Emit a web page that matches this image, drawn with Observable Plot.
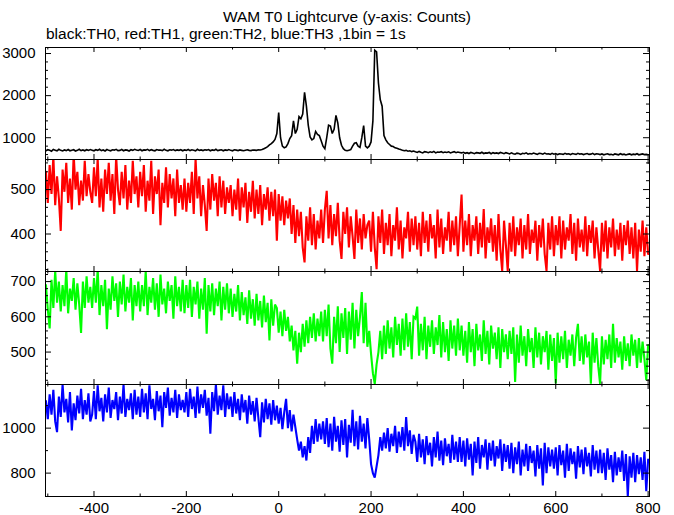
<!DOCTYPE html>
<html><head><meta charset="utf-8">
<script src="https://cdn.jsdelivr.net/npm/d3@7"></script>
<script src="https://cdn.jsdelivr.net/npm/@observablehq/plot@0.6"></script>
<style>
body{margin:0;background:#fff;}
#chart{position:relative;width:674px;height:515px;font-family:"Liberation Sans",Arial,sans-serif;color:#000;overflow:hidden;}
.t{position:absolute;font-size:15.5px;line-height:18px;white-space:nowrap;}
#chart svg{position:absolute;left:0;overflow:visible;}
</style></head><body>
<div id="chart">
<div class="t" style="left:45px;width:604px;text-align:center;top:8px">WAM T0 Lightcurve (y-axis: Counts)</div>
<div class="t" style="left:46px;top:25px">black:TH0, red:TH1, green:TH2, blue:TH3 ,1bin = 1s</div>
</div>
<script>
// time bins: first bin at T0, one value every STEP seconds
const T0 = -504, STEP = 4;

// TH0 (black)
const th0 = [
690,715,700,680,720, 705,690,725,700,685, 710,695,720,690,705, 715,685,700,725,695, 710,690,715,700,720,
705,690,715,700,725, 695,710,685,720,700, 690,715,705,725,695, 700,720,690,710,705, 685,715,700,725,710,
700,720,690,710,705, 725,695,715,700,690, 720,705,710,695,725, 700,690,715,705,720, 695,710,700,715,690,
710,700,720,695,715, 705,690,725,700,710, 695,715,705,720,690, 710,700,725,695,705, 715,690,710,700,720,
700,690,715,705,695, 710,700,690,705,715, 700,695,710,705,700, 715,710,720,740,760, 790,830,860,900,960,
1100,1600,1000,800,760, 780,860,980,1050,1400, 1100,1200,1500,1450,1560, 2080,1750,1300,1020,950, 980,1150,1080,1050,930,
800,740,1000,1300,1280, 1100,1200,1530,1350,1000, 820,740,700,690,700, 720,800,870,880,800, 770,1000,1290,800,760,
800,900,1400,3080,3040, 2300,1900,1750,1050,950, 880,840,800,790,760, 750,730,720,700,690, 700,680,690,670,685,
665,650,675,655,640, 670,660,645,665,650, 675,640,660,655,670, 645,660,650,665,640, 655,670,645,660,650,
640,655,630,645,625, 650,635,620,645,640, 630,655,625,640,635, 650,620,645,630,640, 625,650,635,620,645,
630,615,640,620,610, 635,625,605,630,620, 640,610,625,615,635, 620,605,630,625,610, 635,615,620,605,630,
610,625,600,620,615, 605,630,610,620,600, 625,615,605,630,610, 620,600,615,625,605, 610,630,600,620,615,
600,615,595,610,620, 600,605,590,615,605, 595,620,600,610,590, 605,615,595,610,600, 620,595,605,615,600,
605,595
];

// TH1 (red)
const th1 = [
540,470,555,490,575, 465,530,480,407,545, 495,560,470,525,455, 580,500,540,465,520, 475,565,485,535,495,
470,550,485,570,460, 525,450,545,490,560, 475,535,445,575,500, 465,540,480,555,455, 520,470,565,490,530,
460,540,485,555,450, 520,475,565,445,530, 490,545,420,515,470, 550,460,535,480,525, 440,545,470,510,455,
525,450,515,470,540, 445,570,480,530,440, 510,465,407,525,455, 535,475,515,440,530, 460,520,445,505,470,
510,440,500,455,525, 430,505,460,515,425, 495,450,520,435,500, 445,510,420,490,455, 505,430,495,440,500,
385,490,430,485,420, 475,435,480,400,465, 380,455,395,450,370, 336,440,385,460,375, 445,365,430,390,455,
380,455,497,390,465, 375,445,395,470,385, 344,450,400,460,370, 440,395,344,455,380, 435,365,445,390,420,
430,360,450,370,321, 440,380,455,355,425, 375,445,350,420,385, 460,365,430,345,415, 390,450,360,435,375,
440,365,425,350,450, 380,430,360,445,390, 420,345,455,370,435, 355,415,385,450,360, 430,375,440,350,420,
489,360,430,375,445, 350,420,385,440,355, 425,370,456,345,415, 380,435,360,420,340, 445,365,317,430,375,
317,425,360,440,350, 415,375,435,345,420, 365,445,355,410,380, 430,340,420,370,435, 355,317,425,365,440,
350,420,375,440,345, 430,365,415,385,445, 355,425,340,435,370, 410,360,440,350,420, 380,430,345,415,365,
317,425,360,430,345, 415,370,435,350,410, 365,425,340,420,375, 430,355,415,345,425, 317,410,360,430,350,
415,355
];

// TH2 (green)
const th2 = [
690,620,567,705,625, 730,640,700,615,690, 630,735,610,680,645, 710,620,695,635,554, 700,625,715,640,685,
625,710,640,735,605, 690,630,705,565,680, 620,715,645,695,600, 700,635,720,615,685, 640,710,590,690,630,
700,615,690,630,730, 605,685,640,710,620, 695,600,720,635,680, 610,700,645,690,595, 715,630,685,615,705,
610,690,625,705,600, 685,635,700,595,680, 620,710,552,690,615, 695,605,680,630,700, 590,685,620,695,610,
680,600,665,615,690, 590,670,605,655,580, 675,595,650,575,665, 590,645,570,660,585, 640,533,650,575,635,
625,555,615,545,620, 560,600,530,575,505, 560,467,555,500,580, 515,590,525,600,540, 610,530,595,545,615,
530,620,545,635,510, 467,600,525,630,500, 610,540,625,495,615, 535,640,510,620,545, 600,670,525,640,515,
560,495,440,410,465, 500,560,480,575,495, 590,510,570,485,600, 520,580,490,595,505, 610,515,585,480,600,
595,629,490,580,505, 600,480,575,515,590, 495,570,520,605,485, 585,500,565,475,590, 510,575,490,595,505,
575,490,560,470,585, 500,565,460,580,505, 550,475,590,495,560, 465,575,510,555,480, 570,455,565,500,550,
480,560,495,570,415, 550,470,575,490,545, 460,565,500,540,455, 570,485,555,465,545, 500,560,450,550,475,
540,411,555,470,545, 480,560,455,535,490, 550,460,540,580,475, 545,465,550,485,530, 410,555,470,540,460,
410,545,465,535,480, 550,455,580,470,540, 485,530,450,545,475, 525,460,550,490,535, 455,540,470,530,480,
420,520
];

// TH3 (blue)
const th3 = [
1120,1040,1150,1060,1170, 1030,982,1140,1050,1195, 1070,1130,1025,1160,990, 1110,1035,1145,1065,1175, 1040,1125,1060,1155,1030,
1060,1165,1040,1190,1075, 1135,1030,1150,1070,1180, 1045,1125,1085,1160,1035, 1140,1065,1195,1050,1130, 1080,1155,1040,1170,1060,
1140,1050,1175,1070,1155, 1040,1190,1085,1130,1035, 1165,1075,1145,1004,1160, 1090,1180,1055,1135,1070, 1170,1045,1150,1080,1125,
1070,1160,1050,1175,1085, 1140,1045,1185,1065,1150, 1090,1170,1055,1135,975, 1160,1075,1195,1060,1145, 1080,1190,1050,1155,1085,
1140,1050,1160,1065,1130, 1035,1150,1070,1125,1020, 1145,1060,1120,1030,1135, 1045,960,1115,1025,1130, 1040,1110,1015,1125,1035,
1100,1020,1090,995,1070, 1130,1000,1080,985,1060, 1005,950,900,940,870, 920,856,960,890,1010, 930,1040,940,1020,950,
1030,930,1045,915,1020, 900,1050,940,1010,895, 1035,925,1040,870,1015, 935,1081,920,1030,905, 1055,940,1020,910,1045,
950,840,800,780,830, 880,960,900,980,910, 1000,895,975,920,1010, 890,985,915,1005,900, 1049,920,990,885,970,
940,850,975,870,950, 840,965,880,935,830, 960,870,985,855,945, 835,955,875,930,845, 970,860,940,850,960,
850,945,830,955,860, 930,790,940,845,960, 820,925,870,950,815, 935,855,945,830,920, 865,950,810,930,850,
925,820,935,800,915, 840,940,790,905,830, 930,810,920,845,900, 785,925,820,910,745, 935,800,915,830,905,
820,915,790,925,835, 900,780,930,810,910, 840,895,775,920,825, 905,795,915,830,890, 785,925,815,900,800,
905,800,890,770,910, 815,880,760,895,790, 870,805,900,765,885, 696,875,780,890,760, 880,795,870,770,895,
720,860
];

// axis ticks
const xDomain = [-505, 803];
const xMajor = [-400, -200, 0, 200, 400, 600, 800];
const xMinor = [-500, -300, -100, 100, 300, 500, 700];

const y0Domain = [483, 3143];
const y0Major = [1000, 2000, 3000];
const y0Minor = [600, 800, 1200, 1400, 1600, 1800, 2200, 2400, 2600, 2800];

const y1Domain = [315.6, 567.7];
const y1Major = [400, 500];
const y1Minor = [320, 340, 360, 380, 420, 440, 460, 480, 520, 540, 560];

const y2Domain = [408, 728.6];
const y2Major = [500, 600, 700];
const y2Minor = [420, 440, 460, 480, 520, 540, 560, 580, 620, 640, 660, 680, 720];

const y3Domain = [696, 1194];
const y3Major = [800, 1000];
const y3Minor = [900, 1100];

const panels = [
  {values: th0, color: "#000000", width: 1.6, domain: y0Domain, major: y0Major, minor: y0Minor},
  {values: th1, color: "#ff0000", width: 2.1, domain: y1Domain, major: y1Major, minor: y1Minor},
  {values: th2, color: "#00ff00", width: 2.1, domain: y2Domain, major: y2Major, minor: y2Minor},
  {values: th3, color: "#0000ff", width: 2.1, domain: y3Domain, major: y3Major, minor: y3Minor}
];

const bounds = [47, 159, 271, 384, 496];
const chart = document.getElementById("chart");
const W = 604;

panels.forEach((p, k) => {
  const top = bounds[k], h = bounds[k + 1] - bounds[k];
  const last = k === panels.length - 1;
  const mt = 3, mb = last ? 515 - bounds[4] : 3;
  const svg = Plot.plot({
    width: 674,
    height: h + mt + mb,
    marginLeft: 45, marginRight: 25, marginTop: mt, marginBottom: mb,
    style: {fontFamily: '"Liberation Sans", Arial, sans-serif', fontSize: "15px", background: "transparent", color: "#000", overflow: "visible"},
    x: last
      ? {domain: xDomain, ticks: xMajor, tickSize: 0, tickPadding: 6, tickFormat: d => String(d)}
      : {domain: xDomain, axis: null},
    y: {domain: p.domain, ticks: p.major, tickSize: 0, tickPadding: 10, tickFormat: d => String(d)},
    marks: [
      Plot.lineY(p.values, {x: (d, i) => T0 + i * STEP, y: d => d, stroke: p.color, strokeWidth: p.width, strokeLinejoin: "miter", strokeMiterlimit: 3, clip: true}),
      Plot.ruleX(xMajor, {x: d => d, insetTop: h - 5}),
      Plot.ruleX(xMajor, {x: d => d, insetBottom: h - 5}),
      Plot.ruleX(xMinor, {x: d => d, insetTop: h - 2.5}),
      Plot.ruleX(xMinor, {x: d => d, insetBottom: h - 2.5}),
      Plot.ruleY(p.major, {y: d => d, insetRight: W - 6}),
      Plot.ruleY(p.major, {y: d => d, insetLeft: W - 6}),
      Plot.ruleY(p.minor, {y: d => d, insetRight: W - 3}),
      Plot.ruleY(p.minor, {y: d => d, insetLeft: W - 3}),
      Plot.frame({stroke: "#000"})
    ]
  });
  svg.style.top = (top - mt) + "px";
  chart.appendChild(svg);
});
</script>
</body></html>
